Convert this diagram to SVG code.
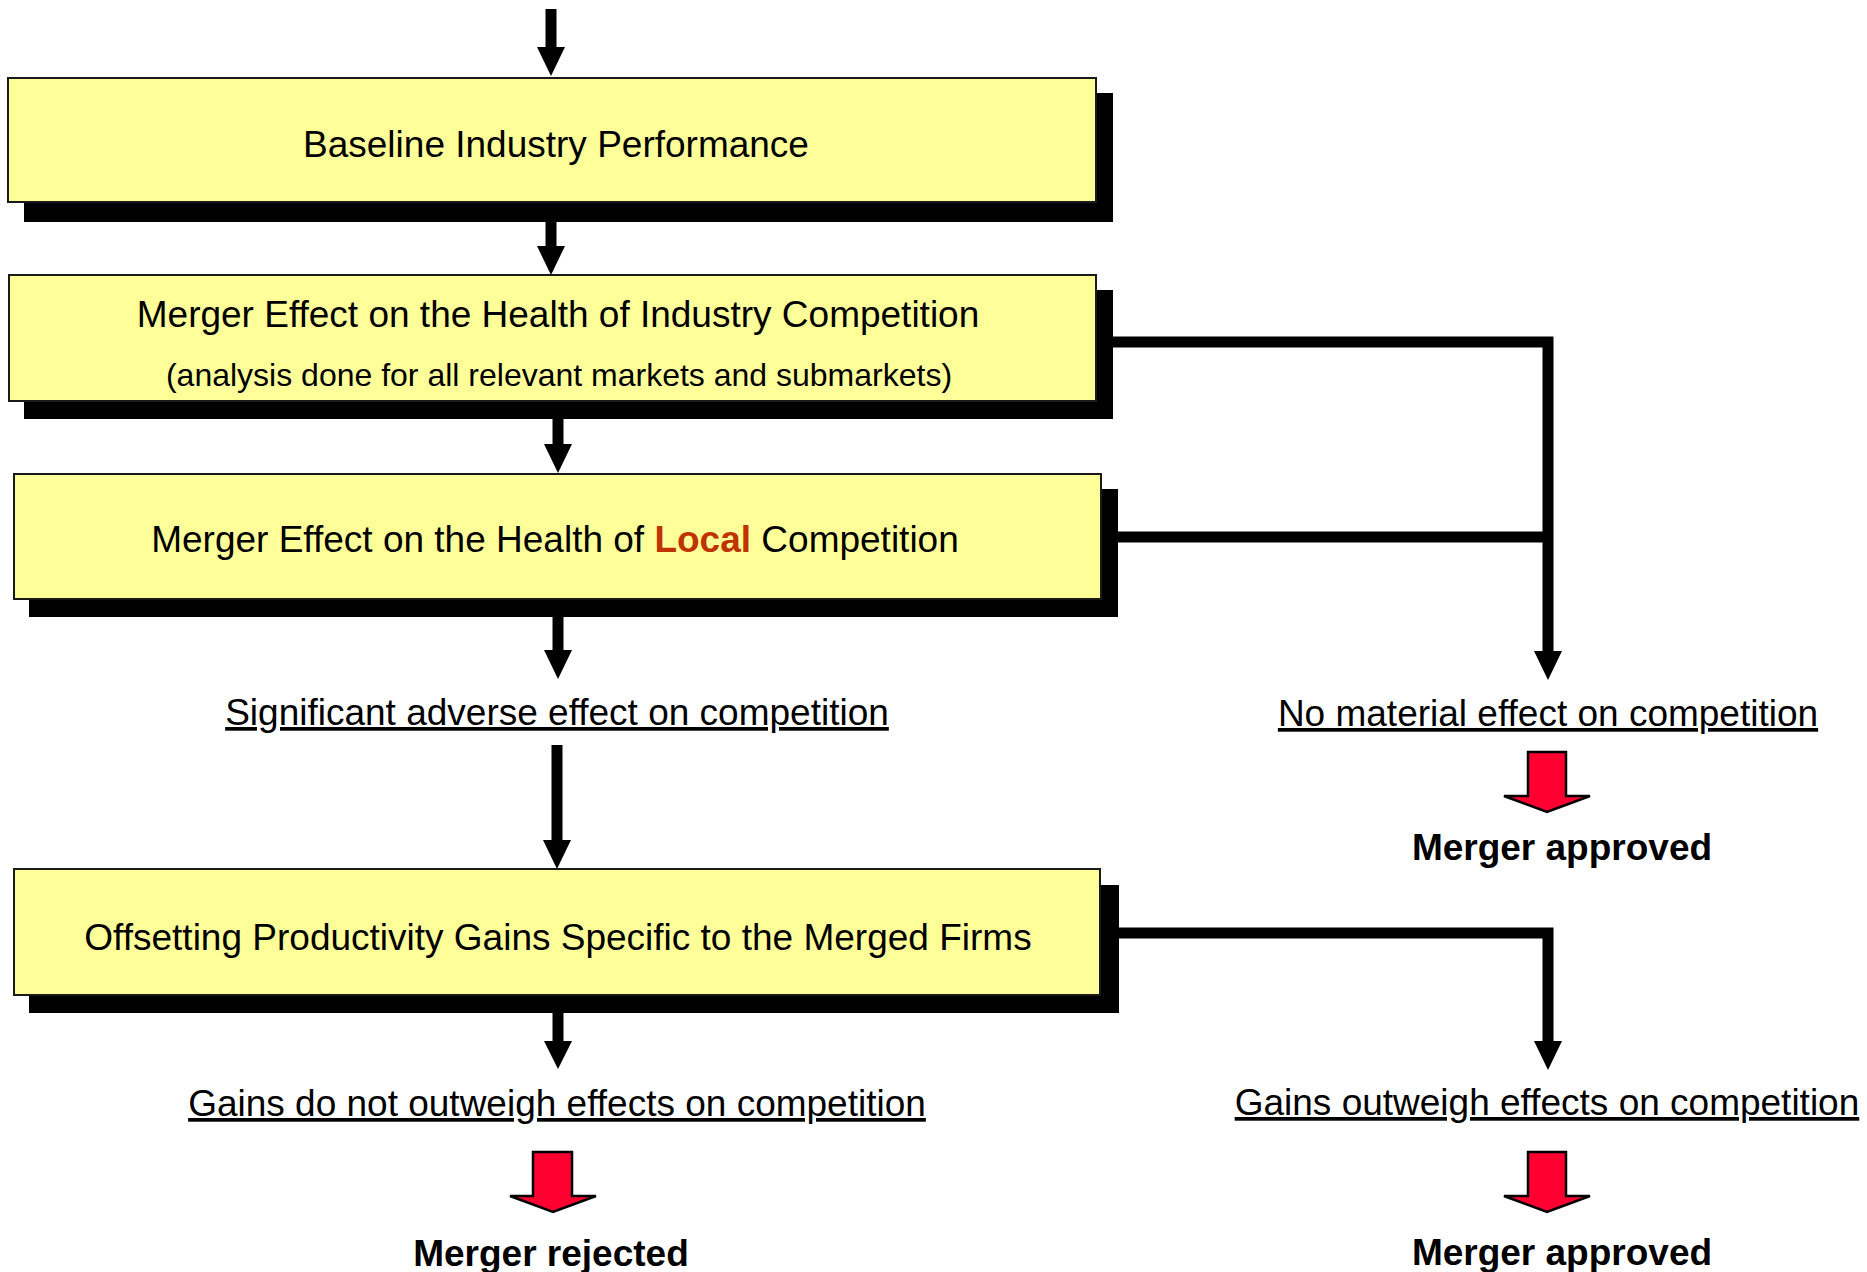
<svg xmlns="http://www.w3.org/2000/svg" width="1867" height="1272" viewBox="0 0 1867 1272">
  <style>
    .box { fill: #FFFF99; stroke: #1a1a1a; stroke-width: 2; }
    .shadow { fill: #000000; }
    .txt { font-family: "Liberation Sans", Arial, sans-serif; font-size: 37px; fill: #000000; text-anchor: middle; }
    .small { font-size: 32px; }
    .bold { font-weight: bold; }
    .local { font-weight: bold; fill: #BF3300; }
    .ul { text-decoration: underline; }
    .line { fill: none; stroke: #000000; stroke-width: 11; stroke-linejoin: miter; stroke-linecap: butt; }
    .head { fill: #000000; }
    .verdict { fill: #FF0030; stroke: #000000; stroke-width: 2.5; stroke-linejoin: miter; }
  </style>

  <!-- connectors -->
  <g id="connectors">
    <!-- entry arrow into the baseline box -->
    <line class="line" x1="551" y1="9" x2="551" y2="48"/>
    <polygon class="head" points="537,47 565,47 551,76"/>
    <!-- baseline -> industry competition -->
    <line class="line" x1="551" y1="221" x2="551" y2="248"/>
    <polygon class="head" points="537,246 565,246 551,275"/>
    <!-- industry -> local competition -->
    <line class="line" x1="558" y1="418" x2="558" y2="446"/>
    <polygon class="head" points="544,444 572,444 558,473"/>
    <!-- local -> significant adverse effect -->
    <line class="line" x1="558" y1="617" x2="558" y2="652"/>
    <polygon class="head" points="544,650 572,650 558,679"/>
    <!-- significant adverse effect -> productivity gains -->
    <line class="line" x1="557" y1="745" x2="557" y2="842"/>
    <polygon class="head" points="543,840 571,840 557,869"/>
    <!-- productivity gains -> gains do not outweigh -->
    <line class="line" x1="558" y1="1012" x2="558" y2="1043"/>
    <polygon class="head" points="544,1041 572,1041 558,1069"/>
    <!-- industry / local -> no material effect -->
    <path class="line" d="M1093,342 H1548 V653"/>
    <line class="line" x1="1117" y1="537" x2="1548" y2="537"/>
    <polygon class="head" points="1534,651 1562,651 1548,680"/>
    <!-- productivity gains -> gains outweigh -->
    <path class="line" d="M1118,933 H1548 V1043"/>
    <polygon class="head" points="1534,1041 1562,1041 1548,1070"/>
  </g>

  <!-- process boxes -->
  <g id="baseline">
    <rect class="shadow" x="24" y="93" width="1089" height="129"/>
    <rect class="box" x="8" y="78" width="1088" height="124"/>
    <text class="txt" x="556" y="157">Baseline Industry Performance</text>
  </g>

  <g id="industry-competition">
    <rect class="shadow" x="24" y="290" width="1089" height="129"/>
    <rect class="box" x="9" y="275" width="1087" height="126"/>
    <text class="txt" x="558" y="327">Merger Effect on the Health of Industry Competition</text>
    <text class="txt small" x="559" y="386">(analysis done for all relevant markets and submarkets)</text>
  </g>

  <g id="local-competition">
    <rect class="shadow" x="29" y="489" width="1089" height="128"/>
    <rect class="box" x="14" y="474" width="1087" height="125"/>
    <text class="txt" x="555" y="552">Merger Effect on the Health of <tspan class="local">Local</tspan> Competition</text>
  </g>

  <g id="productivity-gains">
    <rect class="shadow" x="29" y="885" width="1090" height="128"/>
    <rect class="box" x="14" y="869" width="1086" height="126"/>
    <text class="txt" x="558" y="950">Offsetting Productivity Gains Specific to the Merged Firms</text>
  </g>

  <!-- outcome labels -->
  <g id="adverse-effect">
    <text class="txt ul" x="557" y="725">Significant adverse effect on competition</text>
  </g>

  <g id="no-material-effect">
    <text class="txt ul" x="1548" y="726">No material effect on competition</text>
  </g>

  <g id="approved-1">
    <polygon class="verdict" points="1528,752 1566,752 1566,796 1590,796 1547,812 1504,796 1528,796"/>
    <text class="txt bold" x="1562" y="860">Merger approved</text>
  </g>

  <g id="gains-not-outweigh">
    <text class="txt ul" x="557" y="1116">Gains do not outweigh effects on competition</text>
  </g>

  <g id="gains-outweigh">
    <text class="txt ul" x="1547" y="1115">Gains outweigh effects on competition</text>
  </g>

  <g id="rejected">
    <polygon class="verdict" points="533,1152 572,1152 572,1196 596,1196 553,1212 510,1196 533,1196"/>
    <text class="txt bold" x="551" y="1266">Merger rejected</text>
  </g>

  <g id="approved-2">
    <polygon class="verdict" points="1528,1152 1566,1152 1566,1196 1590,1196 1547,1212 1504,1196 1528,1196"/>
    <text class="txt bold" x="1562" y="1265">Merger approved</text>
  </g>
</svg>
